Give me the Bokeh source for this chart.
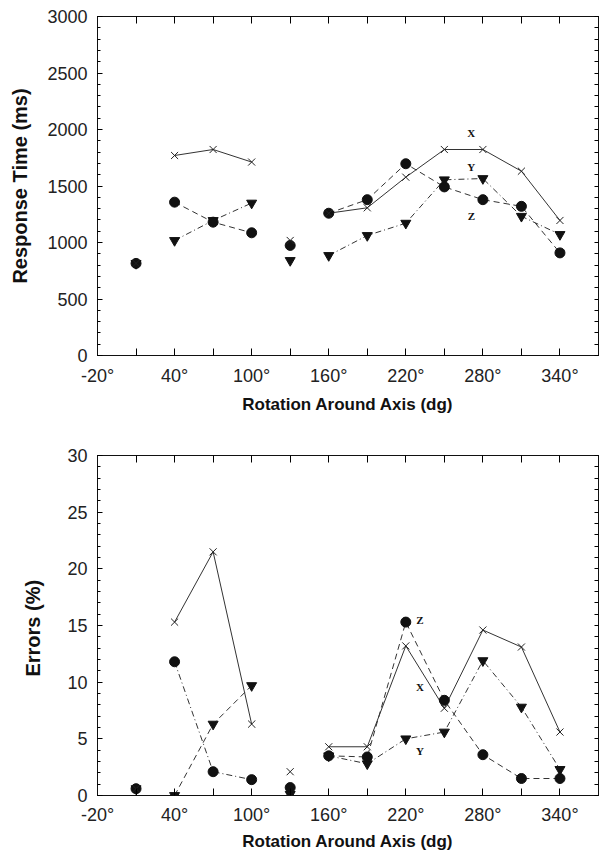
from bokeh.plotting import figure
from bokeh.models import LinearAxis, FixedTicker, SingleIntervalTicker, Range1d
from bokeh.layouts import column
from bokeh.embed import file_html
from bokeh.resources import INLINE
from bokeh.core.properties import value

# ---------------- data ----------------
ANGLES = [10, 40, 70, 100, 130, 160, 190, 220, 250, 280, 310, 340]

RT_X = [815, 1770, 1823, 1712, 1018, 1259, 1307, 1578, 1823, 1823, 1631, 1195]
RT_Y = [815, 1018, 1195, 1349, 841, 885, 1062, 1171, 1555, 1566, 1232, 1071]
RT_Z = [815, 1357, 1180, 1086, 974, 1259, 1379, 1697, 1492, 1379, 1320, 908]

ERR_X = [0.6, 15.3, 21.5, 6.3, 2.1, 4.3, 4.3, 13.2, 7.7, 14.6, 13.1, 5.6]
ERR_Y = [0.6, 0.0, 6.3, 9.7, 0.1, 3.5, 2.8, 5.0, 5.6, 11.9, 7.8, 2.3]
ERR_Z = [0.6, 11.8, 2.1, 1.4, 0.7, 3.5, 3.4, 15.3, 8.4, 3.6, 1.5, 1.5]

X_TICKS = list(range(-20, 371, 30))
X_LABELS = {t: (f"{t}\u00b0" if (t + 20) % 60 == 0 else "") for t in X_TICKS}

SERIES_NAMES = ["X", "Y", "Z"]
# annotation positions (angle, value) for series name labels
RT_NAME_POS = [(271, 1965), (271, 1668), (271, 1233)]
ERR_NAME_POS = [(231, 9.6), (231, 3.9), (231, 15.5)]

# segments of connected points (index ranges)
SEGMENTS = [(1, 4), (5, 12)]

FONT = "Liberation Sans"
SOLID = "solid"
DASHED = "6 4"
DASHDOT = "6 3 1 3"
INK = "#111111"


def base_fig(y_end, y_interval, y_minor, width_frame, left, top, bottom, height,
             ylabel, ylabel_standoff, xstand):
    p = figure(width=left + width_frame + 1, height=height,
               x_range=Range1d(-20, 370), y_range=Range1d(0, y_end),
               output_backend="svg", toolbar_location=None,
               min_border_left=left, min_border_right=1,
               min_border_top=top, min_border_bottom=bottom)
    p.grid.visible = False
    p.outline_line_color = INK
    p.outline_line_width = 1
    p.background_fill_color = "white"
    p.border_fill_color = "white"

    xa = p.xaxis[0]
    xa.ticker = FixedTicker(ticks=X_TICKS)
    xa.major_label_overrides = X_LABELS
    xa.major_tick_in = 7
    xa.major_tick_out = 0
    xa.minor_tick_line_color = None
    xa.major_label_standoff = xstand[0]
    xa.axis_label = "Rotation Around Axis (dg)"
    xa.axis_label_standoff = xstand[1]
    xa.axis_label_text_font = FONT
    xa.axis_label_text_font_style = "bold"
    xa.axis_label_text_font_size = "17px"
    xa.axis_label_text_color = INK
    xa.major_label_text_font = FONT
    xa.major_label_text_font_size = "18px"
    xa.major_label_text_color = "#222222"
    xa.axis_line_color = INK

    ya = p.yaxis[0]
    ya.ticker = SingleIntervalTicker(interval=y_interval, num_minor_ticks=5)
    ya.major_tick_in = 5
    ya.major_tick_out = 0
    ya.minor_tick_in = 3
    ya.minor_tick_out = 0
    ya.major_label_standoff = 10
    ya.axis_label = ylabel
    ya.axis_label_standoff = ylabel_standoff
    ya.axis_label_text_font = FONT
    ya.axis_label_text_font_style = "bold"
    ya.axis_label_text_font_size = "20px"
    ya.axis_label_text_color = INK
    ya.major_label_text_font = FONT
    ya.major_label_text_font_size = "18px"
    ya.major_label_text_color = "#222222"
    ya.axis_line_color = INK

    # frame axes on top and right: ticks only (no labels)
    top_ax = LinearAxis(ticker=FixedTicker(ticks=[], minor_ticks=X_TICKS),
                        minor_tick_in=7, minor_tick_out=0, major_tick_line_color=None,
                        major_label_standoff=0, axis_line_color=INK)
    p.add_layout(top_ax, "above")
    right_ax = LinearAxis(ticker=FixedTicker(ticks=[], minor_ticks=y_minor),
                          minor_tick_in=4, minor_tick_out=0, major_tick_line_color=None,
                          major_label_standoff=0, axis_line_color=INK)
    p.add_layout(right_ax, "right")
    return p


def draw(p, xs, ys, dashes, name_pos):
    vx, vy, vz = ys
    dx, dy, dz = dashes
    for (a, b), (sx, sy, sz) in zip(SEGMENTS, zip(dx, dy, dz)):
        p.line(xs[a:b], vx[a:b], line_color="#333333", line_width=1, line_dash=sx)
        p.line(xs[a:b], vz[a:b], line_color="#333333", line_width=1, line_dash=sz)
        p.line(xs[a:b], vy[a:b], line_color="#333333", line_width=1, line_dash=sy)
    p.scatter(xs, vz, marker="circle", size=10, fill_color=INK, line_color=INK)
    p.scatter(xs, vy, marker="inverted_triangle", size=10, fill_color=INK, line_color=INK)
    p.scatter(xs, vx, marker="x", size=10, line_color="#222222", line_width=1)
    p.text(x=[pt[0] for pt in name_pos], y=[pt[1] for pt in name_pos], text=SERIES_NAMES,
           text_font=value("Liberation Serif"), text_font_style="bold", text_font_size="11px",
           text_align="center", text_baseline="middle", text_color=INK)


RT_MINOR = list(range(0, 3001, 100))
ERR_MINOR = list(range(0, 31, 1))

p1 = base_fig(3000, 500, RT_MINOR, 501, 97, 16, 65, 420, "Response Time (ms)", 13, (10, 6))
draw(p1, ANGLES, (RT_X, RT_Y, RT_Z),
     ((SOLID, SOLID), (DASHDOT, DASHDOT), (DASHED, DASHED)), RT_NAME_POS)

p2 = base_fig(30, 5, ERR_MINOR, 505, 93, 35, 60, 435, "Errors  (%)", 20, (9, 4))
draw(p2, ANGLES, (ERR_X, ERR_Y, ERR_Z),
     ((SOLID, SOLID), (DASHED, DASHDOT), (DASHDOT, DASHED)), ERR_NAME_POS)

layout = column(p1, p2, spacing=0)
open("out.html", "w").write(file_html(layout, INLINE))
